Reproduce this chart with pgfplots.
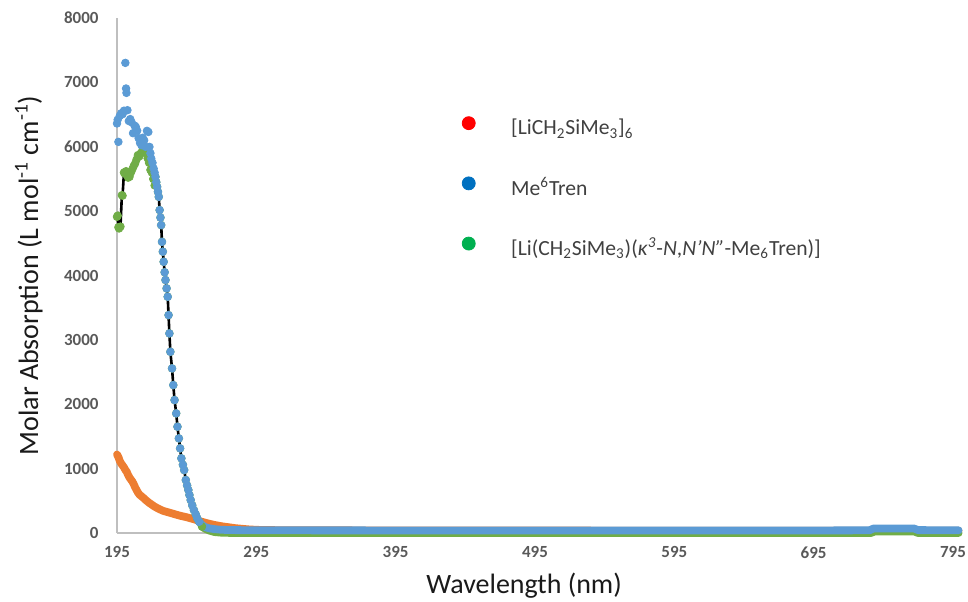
\documentclass[border=0pt]{standalone}
\usepackage{fontspec}
\setmainfont{Carlito}
\usepackage{pgfplots}
\pgfplotsset{compat=1.18}
\definecolor{sblue}{HTML}{5B9BD5}
\definecolor{sorange}{HTML}{ED7D31}
\definecolor{sgreen}{HTML}{70AD47}
\definecolor{lred}{HTML}{FF0000}
\definecolor{lblue}{HTML}{0070C0}
\definecolor{lgreen}{HTML}{00B050}
\definecolor{axgray}{HTML}{BFBFBF}
\definecolor{tickgray}{HTML}{595959}
\definecolor{legtext}{HTML}{404040}
\definecolor{labtext}{HTML}{1A1A1A}
\begin{document}
\begin{tikzpicture}
\useasboundingbox (-58.5pt,-34pt) rectangle (425.5pt,266.5pt);
\begin{axis}[
  scale only axis, width=418pt, height=257.5pt,
  xmin=195, xmax=795, ymin=0, ymax=8000,
  xtick={195,295,...,795}, ytick={0,1000,...,8000},
  axis x line*=bottom, axis y line*=left,
  axis line style={draw=axgray, line width=0.75pt},
  major tick length=0pt, tick style={draw=none},
  clip=false,
  /pgf/number format/1000 sep={},
  /pgf/number format/assume math mode=true,
  ticklabel style={font=\fontsize{8.5}{10}\selectfont\bfseries, text=tickgray},
  yticklabel style={xshift=-5.7pt},
  xticklabel style={yshift=-3.2pt},
  xlabel={Wavelength (nm)},
  ylabel={Molar Absorption (L mol\textsuperscript{-1} cm\textsuperscript{-1})},
  label style={font=\fontsize{14}{16}\selectfont, text=labtext},
  xlabel style={at={(rel axis cs:0.487,-0.1165)}, anchor=base},
  ylabel style={at={(rel axis cs:-0.0945,0.5)}, anchor=base, rotate=0},
  legend style={draw=none, fill=none, inner sep=0pt,
    at={(rel axis cs:0.412,0.81)}, anchor=north west,
    row sep=17.75pt, column sep=17.75pt,
    font=\fontsize{10.8}{12}\selectfont, text=legtext,
    nodes={text height=8pt, text depth=3pt, inner sep=0pt}},
  legend cell align=left,
]
\addlegendimage{legend image code/.code={\fill[lred] (0pt,3.4pt) circle[radius=3.25pt];}}
\addlegendentry{[LiCH\textsubscript{2}SiMe\textsubscript{3}]\textsubscript{6}}
\addlegendimage{legend image code/.code={\fill[lblue] (0pt,3.4pt) circle[radius=3.25pt];}}
\addlegendentry{Me\textsuperscript{6}Tren}
\addlegendimage{legend image code/.code={\fill[lgreen] (0pt,3.4pt) circle[radius=3.25pt];}}
\addlegendentry{[Li(CH\textsubscript{2}SiMe\textsubscript{3})(\textit{κ}\textsuperscript{\textit{3}}-\textit{N},\textit{N’N”}-Me\textsubscript{6}Tren)]}

% orange series: [LiCH2SiMe3]6
\addplot[forget plot, sorange, line width=3.9pt, line cap=round, line join=round] coordinates {
(195,1220) (196,1180) (197,1120) (198,1080) (199,1050) (200,1020) (201,980) (202,950)
(203,900) (204,860) (205,830) (206,800) (207,760) (208,710) (209,670) (210,630)
(211,600) (212,580) (214,545) (216,505) (218,470) (220,440) (222,410) (225,375)
(228,345) (232,320) (236,295) (240,270) (245,245) (250,215) (255,180) (260,150)
(265,125) (270,105) (275,90) (280,75) (285,65) (290,55) (300,45) (400,38) (600,36) (799,36)};

% green series flat band
\addplot[forget plot, sgreen, line width=3.9pt, line cap=round, line join=round] coordinates {
(256,100) (258,70) (261,40) (265,15) (270,5) (280,0) (500,0) (736,0) (739,25) (767,25) (770,0) (799,0)};

% green scatter
\addplot[forget plot, only marks, mark=*, mark size=1.9pt, sgreen] coordinates {
(195,4912) (195.5,4930) (196,4750) (196.5,4731) (197.5,4760) (198.5,5248) (199,5240)
(200,5600) (200.5,5585) (201.5,5620) (202,5560) (203,5520) (204,5533) (205,5600)
(206,5650) (207,5700) (208,5740) (209,5800) (210,5870) (211,5850) (212,5895)
(213,5930) (214,5950) (215,5920) (216,5900) (217,5820) (218,5750) (219,5640)
(220,5600) (221,5500) (222,5400) (222.6,5533) (223.2,5450) (223.8,5378) (224.4,5300)
(225,5222) (225.6,5016) (226.2,4900) (226.7,4783) (227.3,4523) (227.9,4370)
(228.5,4213) (229.2,4050) (229.8,3930) (230.6,3800) (231.4,3670) (232,3385)
(232.6,3100) (233.3,2815) (234.5,2557) (235.4,2298) (236.3,2065) (237.5,1858)
(238.4,1651) (239.4,1470) (240.3,1315) (241.2,1160) (242.3,1060) (243.2,978)
(244.4,823) (245.3,740) (246.2,668) (247,590) (247.9,512) (249,430) (250.2,357)
(251.5,290) (252.6,228) (254,175) (256,100)};

% black line through the green series
\addplot[forget plot, black, line width=1.3pt] coordinates {
(195,4912) (195.5,4930) (196,4750) (196.5,4731) (197.5,4760) (198.5,5248) (199,5240)
(200,5600) (200.5,5585) (201.5,5620) (202,5560) (203,5520) (204,5533) (205,5600)
(206,5650) (207,5700) (208,5740) (209,5800) (210,5870) (211,5850) (212,5895)
(213,5930) (214,5950) (215,5920) (216,5900) (217,5820) (218,5750) (219,5640)
(220,5600) (221,5500) (222,5400) (223.2,5450) (223.8,5378) (224.4,5300)
(225,5222) (225.6,5016) (226.2,4900) (226.7,4783) (227.3,4523) (227.9,4370)
(228.5,4213) (229.2,4050) (229.8,3930) (230.6,3800) (231.4,3670) (232,3385)
(232.6,3100) (233.3,2815) (234.5,2557) (235.4,2298) (236.3,2065) (237.5,1858)
(238.4,1651) (239.4,1470) (240.3,1315) (241.2,1160) (242.3,1060) (243.2,978)
(244.4,823) (245.3,740) (246.2,668) (247,590) (247.9,512) (249,430) (250.2,357)};

% blue flat band
\addplot[forget plot, sblue, line width=3.9pt, line cap=round, line join=round] coordinates {
(254,175) (256,124) (258,95) (261,73) (265,60) (270,50) (280,45) (300,42) (400,40)
(500,40) (600,40) (700,40) (735,42) (738,70) (767,70) (770,45) (799,42)};

% blue scatter: Me6Tren
\addplot[forget plot, only marks, mark=*, mark size=1.9pt, sblue] coordinates {
(195,6362) (195.5,6420) (196,6076) (197,6480) (198,6520) (199,6506) (200,6560)
(201,7303) (201.5,6905) (201.8,6837) (202.5,6568) (203.5,6400) (204.5,6430)
(205.5,6380) (206.5,6211) (207.5,6330) (208.5,6310) (209.5,6250) (210.5,6134)
(211.5,6060) (212.5,6025) (213.5,6140) (214.5,6100) (215.5,6000) (216.5,6247)
(217.5,6230) (218.3,5998) (219,5900) (219.6,5817) (220.5,5750) (221.3,5663)
(222,5600) (222.6,5533) (223.2,5450) (223.8,5378) (224.4,5300) (225,5222)
(225.6,5016) (226.2,4900) (226.7,4783) (227.3,4523) (227.9,4370) (228.5,4213)
(229.2,4050) (229.8,3930) (230.6,3800) (231.4,3670) (232,3385) (232.6,3100)
(233.3,2815) (234.5,2557) (235.4,2298) (236.3,2065) (237.5,1858) (238.4,1651)
(239.4,1470) (240.3,1315) (241.2,1160) (242.3,1060) (243.2,978) (244.4,823)
(245.3,740) (246.2,668) (247,590) (247.9,512) (249,430) (250.2,357) (251.5,290)
(252.6,228) (254,175)};
\end{axis}
\end{tikzpicture}
\end{document}
